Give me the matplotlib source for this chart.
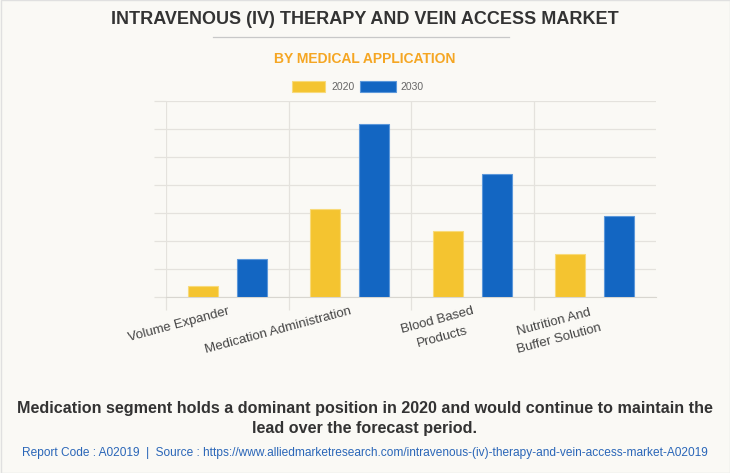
import matplotlib
matplotlib.use("Agg")
import matplotlib.pyplot as plt
import numpy as np
from matplotlib.patches import Rectangle

categories = ["Volume Expander", "Medication Administration", "Blood Based\nProducts", "Nutrition And\nBuffer Solution"]
years = ["2020", "2030"]
values_2020 = [0.39, 3.13, 2.35, 1.55]
values_2030 = [1.35, 6.18, 4.39, 2.88]

BG = "#FAF9F5"
plt.rcParams['font.family'] = ['Liberation Sans', 'DejaVu Sans']

fig = plt.figure(figsize=(7.3, 4.73), dpi=100, facecolor=BG)
ax = fig.add_axes([166/730, 1-297/473, 490/730, 196/473])
ax.set_facecolor(BG)

x = np.arange(len(categories))
w = 0.245
ax.bar(x - 0.2, values_2020, w, color="#F4C430", edgecolor="#F8DA7A", linewidth=0.8, zorder=3, label=years[0])
ax.bar(x + 0.2, values_2030, w, color="#1366C2", edgecolor="#5C98DA", linewidth=0.8, zorder=3, label=years[1])

ax.set_xlim(-0.5, 3.5)
ax.set_ylim(0, 7)
ax.set_yticks(np.arange(0, 8))
ax.set_yticklabels([])
ax.set_xticks([-0.5, 0.5, 1.5, 2.5], minor=False)
ax.set_xticklabels([])
ax.grid(True, color="#E4E2DD", linewidth=0.9, zorder=0)
ax.tick_params(axis='both', length=9, color="#E4E2DD", width=0.9)
for s in ["top", "right", "left"]:
    ax.spines[s].set_visible(False)
ax.spines["bottom"].set_color("#D8D6D0")

for i, c in enumerate(categories):
    ax.text(i, -0.3, c, rotation=15, rotation_mode='anchor', ha='right', va='top',
            fontsize=9.5, color="#444444", multialignment='center', linespacing=1.6,
            transform=ax.transData)

fig.text(0.5, 1-20/473, "INTRAVENOUS (IV) THERAPY AND VEIN ACCESS MARKET", ha='center', va='center',
         fontsize=13, fontweight='bold', color="#333333")
fig.add_artist(plt.Line2D([213/730, 509/730], [1-37/473, 1-37/473], color="#C8C8C8", linewidth=0.9))
fig.text(0.5, 1-59/473, "BY MEDICAL APPLICATION", ha='center', va='center',
         fontsize=10, fontweight='bold', color="#F5A623")

# legend
fig.add_artist(Rectangle((292/730, 1-92/473), 33/730, 11/473, transform=fig.transFigure,
                         facecolor="#F4C430", edgecolor="#F8DA7A", linewidth=0.8))
fig.text(331/730, 1-86.5/473, years[0], ha='left', va='center', fontsize=7.5, color="#666666")
fig.add_artist(Rectangle((360/730, 1-92/473), 36/730, 11/473, transform=fig.transFigure,
                         facecolor="#1366C2", edgecolor="#5C98DA", linewidth=0.8))
fig.text(400/730, 1-86.5/473, years[1], ha='left', va='center', fontsize=7.5, color="#666666")

fig.text(0.5, 1-408/473, "Medication segment holds a dominant position in 2020 and would continue to maintain the",
         ha='center', va='center', fontsize=11.6, fontweight='bold', color="#333333")
fig.text(0.5, 1-428/473, "lead over the forecast period.",
         ha='center', va='center', fontsize=11.6, fontweight='bold', color="#333333")
fig.text(0.5, 1-453/473, "Report Code : A02019  |  Source : https://www.alliedmarketresearch.com/intravenous-(iv)-therapy-and-vein-access-market-A02019",
         ha='center', va='center', fontsize=8.6, color="#2A66B8", family=['Liberation Sans Narrow', 'Liberation Sans'])

fig.add_artist(Rectangle((0.5/730, 0.5/473), 729/730, 472/473, transform=fig.transFigure,
                         facecolor='none', edgecolor="#E0E0E0", linewidth=1))

fig.savefig("out.png", dpi=100, facecolor=BG)
